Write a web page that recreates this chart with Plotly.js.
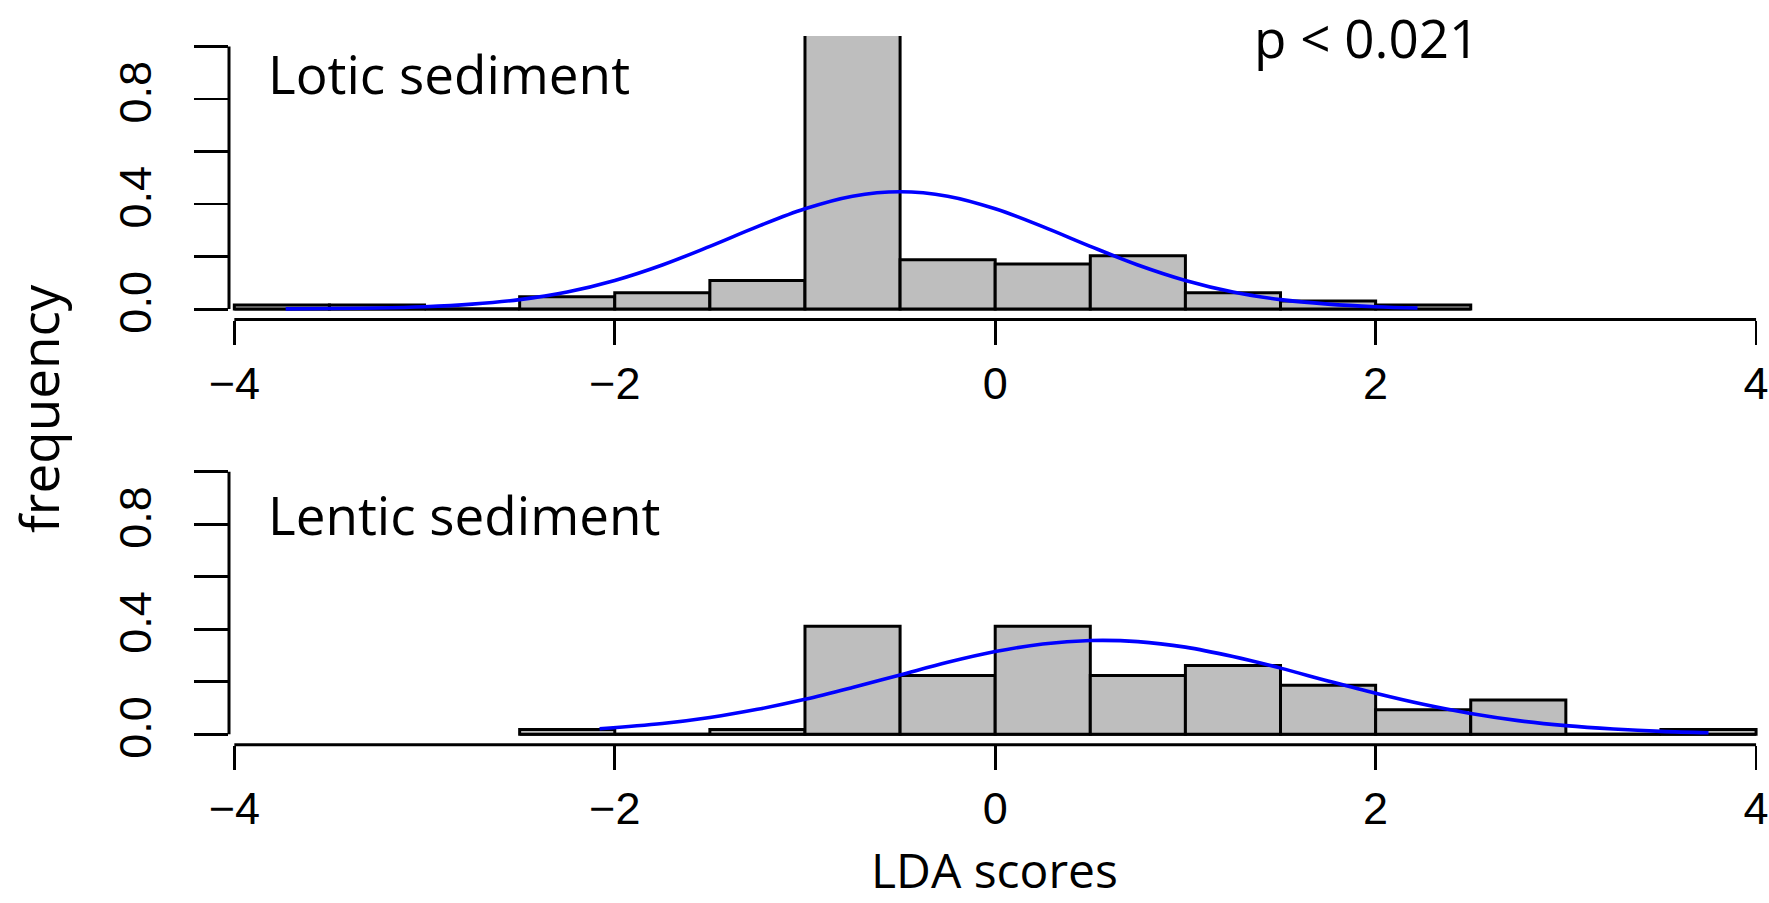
<!DOCTYPE html>
<html>
<head>
<meta charset="utf-8">
<script src="https://cdn.plot.ly/plotly-3.0.1.min.js"></script>
<style>
html,body{margin:0;padding:0;background:#ffffff;}
#chart{width:1769px;height:903px;}
</style>
</head>
<body>
<div id="chart"></div>
<script>
// ---------------- data ----------------
const binWidth = 0.5;

// Lotic sediment histogram (density per bin)
const loticBinStarts = [-4, -3.5, -3, -2.5, -2, -1.5, -1, -0.5, 0, 0.5, 1, 1.5, 2];
const loticDensity   = [0.0156, 0.0156, 0, 0.047, 0.0625, 0.109, 1.078, 0.1875, 0.172, 0.203, 0.0625, 0.031, 0.0156];

// Lentic sediment histogram (density per bin)
const lenticBinStarts = [-2.5, -2, -1.5, -1, -0.5, 0, 0.5, 1, 1.5, 2, 2.5, 3, 3.5];
const lenticDensity   = [0.0187, 0, 0.0187, 0.411, 0.224, 0.411, 0.224, 0.262, 0.187, 0.0935, 0.131, 0, 0.0187];

// Blue fitted curves
const loticCurveX = [-3.73, -3.5, -3.25, -3.0, -2.75, -2.5, -2.25, -2.0, -1.75, -1.5, -1.25, -1.0, -0.75, -0.5, -0.25, 0, 0.25, 0.5, 0.75, 1.0, 1.25, 1.5, 1.75, 2.0, 2.22];
const loticCurveY = [0.001, 0.002, 0.004, 0.009, 0.019, 0.036, 0.065, 0.109, 0.168, 0.239, 0.314, 0.382, 0.430, 0.447, 0.430, 0.382, 0.314, 0.239, 0.168, 0.109, 0.065, 0.036, 0.019, 0.009, 0.004];

const lenticCurveX = [-2.08, -1.75, -1.5, -1.25, -1.0, -0.75, -0.5, -0.25, 0, 0.25, 0.5, 0.75, 1.0, 1.25, 1.5, 1.75, 2.0, 2.25, 2.5, 2.75, 3.0, 3.25, 3.5, 3.75];
const lenticCurveY = [0.021, 0.041, 0.064, 0.095, 0.133, 0.178, 0.226, 0.274, 0.315, 0.344, 0.357, 0.353, 0.332, 0.296, 0.252, 0.203, 0.156, 0.114, 0.079, 0.052, 0.033, 0.020, 0.011, 0.006];

// axis ticks and labels
const xTickVals = [-4, -2, 0, 2, 4];
const yTickVals = [0, 0.2, 0.4, 0.6, 0.8, 1.0];
const yTickText = ['0.0', '', '0.4', '', '0.8', ''];

const panelLabels = ['Lotic sediment', 'Lentic sediment'];
const pValueText = 'p < 0.021';
const xTitle = 'LDA scores';
const yTitle = 'frequency';

// ---------------- layout helpers (pixels -> paper) ----------------
const W = 1769, H = 903, L = 229;
const fx = px => (px - L) / (W - L);
const fy = py => 1 - py / H;

const centers = (starts) => starts.map(s => s + binWidth / 2);

const barStyle = {color: '#BEBEBE', line: {color: '#000000', width: 3}};
const curveStyle = {color: '#0000FF', width: 3.6, shape: 'spline', smoothing: 1};

const traces = [
  {type: 'bar', x: centers(loticBinStarts), y: loticDensity, width: binWidth,
   marker: barStyle, xaxis: 'x', yaxis: 'y', hoverinfo: 'skip'},
  {type: 'scatter', mode: 'lines', x: loticCurveX, y: loticCurveY,
   line: curveStyle, xaxis: 'x', yaxis: 'y', hoverinfo: 'skip'},
  {type: 'bar', x: centers(lenticBinStarts), y: lenticDensity, width: binWidth,
   marker: barStyle, xaxis: 'x2', yaxis: 'y2', hoverinfo: 'skip'},
  {type: 'scatter', mode: 'lines', x: lenticCurveX, y: lenticCurveY,
   line: curveStyle, xaxis: 'x2', yaxis: 'y2', hoverinfo: 'skip'}
];

const xRange = [-4.028, 4.068];
const tickFont = {family: 'Liberation Sans, Arial, sans-serif', size: 45, color: '#000000'};
const labelFont = {family: 'Open Sans, sans-serif', size: 53, color: '#000000'};
const titleFont = {family: 'Open Sans, sans-serif', size: 48, color: '#000000'};

function xAxis(anchor) {
  return {
    anchor: anchor, domain: [0, 1], range: xRange, tickvals: xTickVals,
    ticks: 'outside', ticklen: 24, tickwidth: 2.8, tickcolor: '#000000',
    showgrid: false, zeroline: false, showline: false,
    tickfont: tickFont, ticklabelstandoff: 0, fixedrange: true
  };
}
function yAxis(anchor, top, bottom) {
  return {
    anchor: anchor, domain: [fy(bottom), fy(top)], range: [-0.04, 1.04],
    tickvals: yTickVals, ticktext: yTickText, tickangle: -90,
    ticks: 'outside', ticklen: 34, tickwidth: 2.8, tickcolor: '#000000',
    showgrid: false, zeroline: false, showline: false,
    tickfont: tickFont, ticklabelstandoff: 25, fixedrange: true
  };
}

function panelShapes(xr, yr, starts) {
  const lineStyle = {color: '#000000', width: 3};
  return [
    // x axis line from first to last tick
    {type: 'line', xref: xr, yref: yr + ' domain', x0: xTickVals[0], x1: xTickVals[xTickVals.length - 1], y0: 0, y1: 0, line: lineStyle},
    // y axis line from first to last tick
    {type: 'line', xref: xr + ' domain', yref: yr, x0: 0, x1: 0, y0: yTickVals[0], y1: yTickVals[yTickVals.length - 1], line: lineStyle},
    // histogram baseline (covers empty bins)
    {type: 'line', xref: xr, yref: yr, x0: starts[0], x1: starts[starts.length - 1] + binWidth, y0: 0, y1: 0, line: lineStyle, layer: 'below'}
  ];
}

const layout = {
  width: W, height: H,
  margin: {l: L, r: 0, t: 0, b: 0, pad: 0},
  paper_bgcolor: '#ffffff', plot_bgcolor: 'rgba(0,0,0,0)',
  showlegend: false, bargap: 0,
  xaxis: xAxis('y'),
  yaxis: yAxis('x', 36, 319.6),
  xaxis2: xAxis('y2'),
  yaxis2: yAxis('x2', 461.2, 744.8),
  shapes: panelShapes('x', 'y', loticBinStarts).concat(panelShapes('x2', 'y2', lenticBinStarts)),
  annotations: [
    {text: panelLabels[0], xref: 'paper', yref: 'paper', x: fx(266), y: fy(73), xanchor: 'left', yanchor: 'middle', showarrow: false, font: labelFont},
    {text: panelLabels[1], xref: 'paper', yref: 'paper', x: fx(266), y: fy(514), xanchor: 'left', yanchor: 'middle', showarrow: false, font: labelFont},
    {text: pValueText, xref: 'paper', yref: 'paper', x: fx(1252), y: fy(37), xanchor: 'left', yanchor: 'middle', showarrow: false, font: labelFont},
    {text: xTitle, xref: 'paper', yref: 'paper', x: fx(994), y: fy(869), xanchor: 'center', yanchor: 'middle', showarrow: false, font: titleFont},
    {text: yTitle, xref: 'paper', yref: 'paper', x: fx(38), y: fy(409), xanchor: 'center', yanchor: 'middle', textangle: -90, showarrow: false, font: labelFont}
  ]
};

Plotly.newPlot('chart', traces, layout, {displayModeBar: false, staticPlot: true});
</script>
</body>
</html>
